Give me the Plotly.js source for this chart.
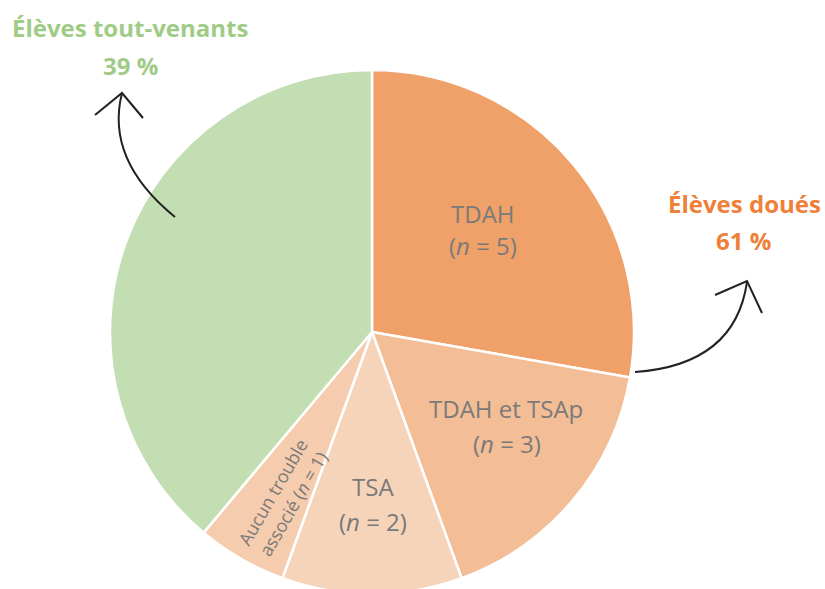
<!DOCTYPE html>
<html>
<head>
<meta charset="utf-8">
<script src="https://cdn.plot.ly/plotly-3.0.1.min.js"></script>
<style>
html,body{margin:0;padding:0;overflow:hidden;background:#fff;}
#chart{width:825px;height:600px;}
</style>
</head>
<body>
<div id="chart"></div>
<script>
// Data
const categories = ["TDAH", "TDAH et TSAp", "TSA", "Aucun trouble associé", "Élèves tout-venants"];
const counts = [5, 3, 2, 1, 7];
const sliceLine1 = ["TDAH", "TDAH et TSAp", "TSA"];
const sliceLine2 = ["(<i>n</i> = 5)", "(<i>n</i> = 3)", "(<i>n</i> = 2)"];
const smallSliceLabel = "Aucun trouble<br>associé (<i>n</i> = 1)";
const groupNames = ["Élèves tout-venants", "Élèves doués"];
const groupShares = ["39 %", "61 %"];

const W = 825, H = 600;
const px = x => x / W;
const py = y => 1 - y / H;
function path(pts) {
  return pts.map(p => {
    if (typeof p === 'string') return p;
    return px(p[0]).toFixed(5) + ',' + py(p[1]).toFixed(5);
  }).join(' ');
}

const colors = ["#F0A169", "#F3BD95", "#F6D4BA", "#F5CCAD", "#C3DEB2"];

const trace = {
  type: 'pie',
  labels: categories,
  values: counts,
  sort: false,
  direction: 'clockwise',
  rotation: 0,
  textinfo: 'none',
  hoverinfo: 'label+value',
  marker: { colors: colors, line: { color: '#ffffff', width: 2.5 } },
  domain: { x: [px(110), px(634)], y: [py(594), py(70)] },
  showlegend: false
};

const grey = '#7a7a7a';
const fontFam = '"Open Sans", sans-serif';
const labelFont = { size: 24, color: grey, family: fontFam };
const annotations = [
  { x: px(483), y: py(213), text: sliceLine1[0], font: labelFont },
  { x: px(483), y: py(246), text: sliceLine2[0], font: labelFont },
  { x: px(506), y: py(408), text: sliceLine1[1], font: labelFont },
  { x: px(507), y: py(443), text: sliceLine2[1], font: labelFont },
  { x: px(373), y: py(486), text: sliceLine1[2], font: labelFont },
  { x: px(373), y: py(521), text: sliceLine2[2], font: labelFont },
  { x: px(282), y: py(498), text: smallSliceLabel, textangle: -60, font: { size: 18, color: grey, family: fontFam } },
  { x: px(130), y: py(28), text: '<b>' + groupNames[0] + '</b>', font: { size: 24, color: '#9FCC85', family: fontFam } },
  { x: px(130), y: py(65), text: '<b>' + groupShares[0] + '</b>', font: { size: 24, color: '#9FCC85', family: fontFam } },
  { x: px(744), y: py(203), text: '<b>' + groupNames[1] + '</b>', font: { size: 24, color: '#EE8038', family: fontFam } },
  { x: px(743), y: py(240), text: '<b>' + groupShares[1] + '</b>', font: { size: 24, color: '#EE8038', family: fontFam } }
].map(a => Object.assign({ xref: 'paper', yref: 'paper', showarrow: false, xanchor: 'center', yanchor: 'middle', align: 'center' }, a));

const lineStyle = { color: '#222222', width: 2 };
const shapes = [
  { type: 'path', path: path(['M', [175, 217], 'Q', [105, 160], [122, 93]]), line: lineStyle },
  { type: 'path', path: path(['M', [95, 115], 'L', [122, 93], 'L', [143, 118]]), line: lineStyle },
  { type: 'path', path: path(['M', [635, 372], 'Q', [735, 365], [747, 282]]), line: lineStyle },
  { type: 'path', path: path(['M', [715, 295], 'L', [747, 281], 'L', [762, 313]]), line: lineStyle }
].map(s => Object.assign({ xref: 'paper', yref: 'paper' }, s));

const layout = {
  width: W, height: H,
  margin: { l: 0, r: 0, t: 0, b: 0 },
  paper_bgcolor: '#ffffff',
  annotations: annotations,
  shapes: shapes
};

Plotly.newPlot('chart', [trace], layout, { displayModeBar: false, staticPlot: true });
</script>
</body>
</html>
